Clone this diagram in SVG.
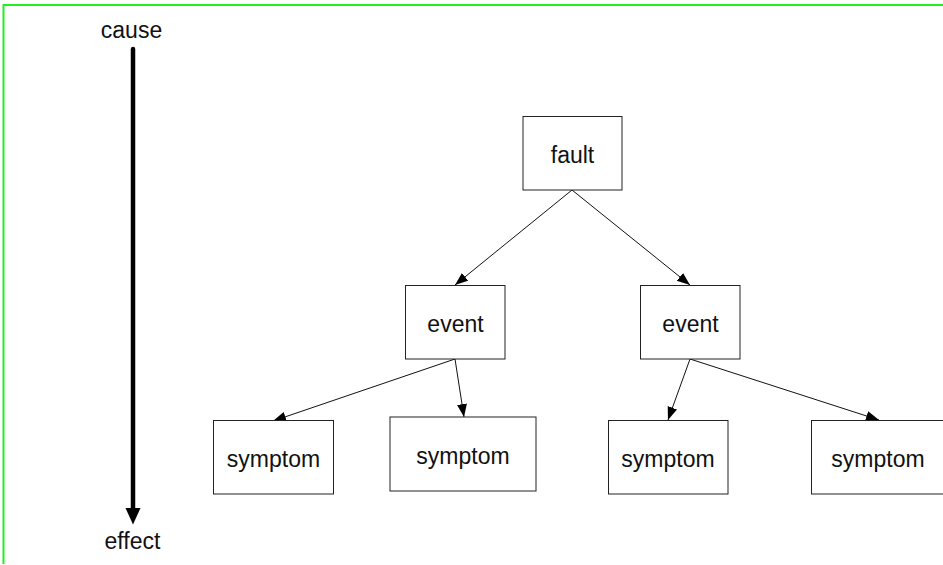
<svg xmlns="http://www.w3.org/2000/svg" width="943" height="565" viewBox="0 0 943 565">
  <style>
    .frame { fill: none; stroke: #22ee22; stroke-width: 2; }
    .box { fill: #ffffff; stroke: #222222; stroke-width: 1; }
    .label { font-family: "Liberation Sans", Arial, sans-serif; font-size: 23px; fill: #111111; text-anchor: middle; }
    .edge { fill: none; stroke: #111111; stroke-width: 1; marker-end: url(#head); }
    .axis { fill: none; stroke: #000000; stroke-width: 4.5; stroke-linecap: round; }
  </style>
  <defs>
    <marker id="head" markerUnits="userSpaceOnUse" markerWidth="14" markerHeight="11" refX="13" refY="5" orient="auto">
      <path d="M0,0 L13,5 L0,10 Z" fill="#000000"/>
    </marker>
  </defs>

  <rect width="943" height="565" fill="#ffffff"/>
  <path class="frame" d="M3.5,564 V5 H943"/>

  <!-- cause / effect axis -->
  <g id="axis">
    <text class="label" x="131.5" y="37.5">cause</text>
    <line class="axis" x1="133" y1="49" x2="133" y2="510"/>
    <path d="M125.5,508 L140.5,508 L133,524.5 Z" fill="#000000"/>
    <text class="label" x="132.5" y="548.5">effect</text>
  </g>

  <!-- connectors -->
  <g id="connectors">
    <line class="edge" x1="572" y1="190" x2="455" y2="285"/>
    <line class="edge" x1="572" y1="190" x2="690" y2="285"/>
    <line class="edge" x1="455" y1="359" x2="273" y2="421"/>
    <line class="edge" x1="455" y1="359" x2="464" y2="417"/>
    <line class="edge" x1="690" y1="359" x2="668" y2="420"/>
    <line class="edge" x1="690" y1="359" x2="879" y2="420"/>
  </g>

  <g id="fault">
    <rect class="box" x="523" y="116.5" width="99" height="73.5"/>
    <text class="label" x="572.5" y="163">fault</text>
  </g>
  <g id="event-left">
    <rect class="box" x="405.5" y="285.5" width="99.5" height="73.5"/>
    <text class="label" x="455.5" y="331.5">event</text>
  </g>
  <g id="event-right">
    <rect class="box" x="640.5" y="285.5" width="99.5" height="73.5"/>
    <text class="label" x="690.5" y="331.5">event</text>
  </g>
  <g id="symptom-1">
    <rect class="box" x="213.5" y="420.5" width="120" height="73.5"/>
    <text class="label" x="273.5" y="466.5">symptom</text>
  </g>
  <g id="symptom-2">
    <rect class="box" x="390" y="417" width="146" height="74"/>
    <text class="label" x="463" y="463.5">symptom</text>
  </g>
  <g id="symptom-3">
    <rect class="box" x="608.5" y="420.5" width="119.5" height="73.5"/>
    <text class="label" x="668" y="466.5">symptom</text>
  </g>
  <g id="symptom-4">
    <rect class="box" x="811.5" y="420.5" width="140" height="73.5"/>
    <text class="label" x="878" y="466.5">symptom</text>
  </g>
</svg>
